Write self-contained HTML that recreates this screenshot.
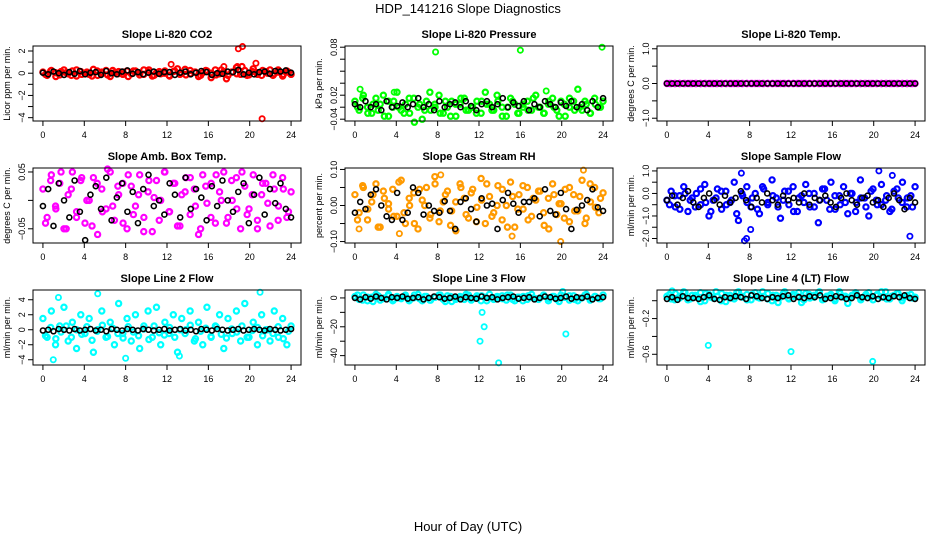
<!DOCTYPE html>
<html><head><meta charset="utf-8"><style>
body{margin:0;background:#fff;}
svg{display:block;font-family:"Liberation Sans",sans-serif;}
</style></head><body>
<svg id="chart" width="936" height="540" viewBox="0 0 936 540">
<text x="468" y="13" text-anchor="middle" font-size="13">HDP_141216  Slope Diagnostics</text>
<text x="468" y="531" text-anchor="middle" font-size="13">Hour of Day (UTC)</text>
</svg>
<script>
// ---- data ----
const xTicks = [0,4,8,12,16,20,24];
const co2 = [0.1,-0.2,0.25,0.05,-0.15,0.3,-0.05,0.2,-0.25,0.15,0,-0.1,0.35,-0.2,0.1,0.25,-0.3,0.05,0.15,-0.1,0.2,-0.05,0.2,-0.15,0.3,0.1,-0.25,0.05,-0.05,0.2,-0.2,0.15,0.4,0,-0.15,0.25,0.1,-0.3,0.05,0.2,-0.4,0.3,-0.05,0.15,-0.2,0.1,0.5,-0.1,0.25,-0.15,0.4,0.05,-0.2,0.15,0.3,-0.05,0.1,-0.25,0.2,-0.1];
const co2B = [-0.1,0.2,-0.3,0.15,0.05,-0.2,0.3,-0.1,0.1,-0.25,0.2,0.0,-0.15,0.25,-0.05,0.1,-0.3,0.2,0.05,-0.1,0.3,-0.2,0.15,0.0,-0.25,0.2,-0.1,0.35,-0.05,0.1,-0.2,0.25,0.0,-0.15,0.3,-0.5,0.1,-0.05,0.6,-0.2,0.15,-0.1,0.25,0.0,-0.2,0.3,-0.1,0.1];
const co2OutHours = [12.4,18.9,19.3,20.6,21.2,17.5,18.8];
const co2OutValues = [0.8,2.2,2.4,0.9,-4.1,0.6,0.6];
const co2Black = [0.05,-0.1,0.15,0,-0.15,0.1,-0.05,0.2,-0.1,0.05,0.1,-0.15,0.2,0,-0.1,0.15,0.25,-0.05,0.1,-0.1,0.05,0.15,-0.05,0.1,0.1,-0.15,0.05,0.15,-0.1,0.05,0.2,0.1,-0.15,0,-0.05,0.15,0.1,0.3,-0.1,0.05,-0.1,0.1,0.15,-0.05,0.2,0.15,0.25,0.05];

const pres = [-0.01,-0.025,0,-0.02,-0.03,-0.005,-0.015,-0.035,-0.01,-0.02,0.005,-0.025,-0.015,-0.03,-0.005,-0.02,-0.04,-0.01,-0.025,-0.015,0,-0.03,-0.02,-0.01,-0.035,-0.015,-0.005,-0.025,-0.02,-0.01,-0.03,0.005,-0.015,-0.025,-0.01,-0.02,-0.035,-0.005,-0.015,-0.03,-0.02,-0.01,-0.025,0,-0.02,-0.03,-0.015,-0.005,-0.025,-0.01,-0.035,-0.02,-0.01,0.01,-0.025,-0.015,-0.03,-0.005,-0.02,-0.01];
const presB = [-0.02,-0.005,-0.03,-0.015,-0.025,0.0,-0.035,-0.01,-0.02,-0.03,-0.005,-0.045,-0.015,-0.025,0.005,-0.02,-0.03,-0.01,-0.035,-0.015,-0.005,-0.025,-0.02,-0.03,-0.01,-0.015,-0.025,0.0,-0.035,-0.02,-0.01,-0.03,-0.015,-0.025,-0.005,-0.02,-0.03,-0.01,-0.02,-0.035,-0.015,-0.005,-0.025,-0.02,-0.01,-0.03,-0.015,-0.02];
const presOutHours = [7.8,16,23.9,0.5,3.8,18.5];
const presOutValues = [0.072,0.075,0.08,0.01,0.005,0.007];
const presBlack = [-0.015,-0.02,-0.01,-0.02,-0.015,-0.025,-0.01,-0.02,-0.018,-0.012,-0.02,-0.015,-0.005,-0.02,-0.015,-0.025,-0.01,-0.02,-0.015,-0.012,-0.02,-0.01,-0.018,-0.025,-0.015,-0.01,-0.02,-0.015,-0.005,-0.02,-0.012,-0.018,-0.01,-0.025,-0.015,-0.02,-0.01,-0.015,-0.02,-0.012,-0.018,-0.01,-0.02,-0.015,-0.025,-0.01,-0.02,-0.005];

const temp = [0,0,0,0,0,0,0,0,0,0,0,0,0,0,0,0,0,0,0,0,0,0,0,0,0,0,0,0,0,0,0,0,0,0,0,0,0,0,0,0,0,0,0,0,0,0,0,0,0,0,0,0,0,0,0,0,0,0,0,0];
const tempB = [0,0,0,0,0,0,0,0,0,0,0,0,0,0,0,0,0,0,0,0,0,0,0,0,0,0,0,0,0,0,0,0,0,0,0,0,0,0,0,0,0,0,0,0,0,0,0,0];
const tempBlack = [0,0,0,0,0,0,0,0,0,0,0,0,0,0,0,0,0,0,0,0,0,0,0,0,0,0,0,0,0,0,0,0,0,0,0,0,0,0,0,0,0,0,0,0,0,0,0,0];

const amb = [0.02,-0.03,0.045,-0.01,0.03,-0.05,0.01,0.05,-0.02,0.035,-0.04,0.0,0.04,-0.06,0.02,-0.015,0.05,-0.035,0.01,0.03,-0.05,0.025,-0.01,0.045,-0.03,0.015,-0.055,0.035,0,0.05,-0.02,0.03,-0.045,0.01,0.04,-0.025,0.02,-0.06,0.045,-0.005,0.03,-0.04,0.015,0.05,-0.03,0.0,0.04,-0.05,0.025,-0.015,0.045,-0.035,0.01,0.03,-0.045,0.02,-0.01,0.04,-0.03,0.015];
const ambB = [-0.04,0.035,-0.015,0.05,-0.05,0.02,-0.03,0.04,0.0,-0.045,0.03,-0.02,0.055,-0.01,0.025,-0.04,0.045,-0.025,0.01,-0.055,0.035,0.005,-0.035,0.05,-0.02,0.03,-0.045,0.015,0.04,-0.01,-0.05,0.025,-0.03,0.045,0.0,-0.04,0.035,-0.015,0.05,-0.025,0.01,-0.05,0.03,-0.005,0.045,-0.035,0.02,-0.02];
const ambBlack = [-0.01,0.02,-0.045,0.03,0.0,-0.03,0.035,-0.02,-0.07,0.01,0.025,-0.015,0.04,-0.035,0.005,0.03,-0.02,0.015,-0.04,0.02,0.045,-0.01,0.0,-0.025,0.03,0.01,-0.03,0.04,-0.015,0.02,0.005,-0.035,0.025,-0.01,0.035,0.0,-0.02,0.015,0.03,-0.04,0.01,0.04,-0.025,0.02,-0.005,0.03,-0.015,-0.03];

const rh = [0.03,-0.02,0.05,-0.04,0.01,0.06,-0.06,0.02,-0.01,0.045,-0.03,0.07,-0.05,0.0,0.035,-0.065,0.015,0.05,-0.025,0.08,-0.045,0.01,0.04,-0.015,-0.07,0.06,0.02,-0.035,0.045,-0.005,0.075,-0.05,0.025,-0.02,0.055,-0.04,0.0,0.065,-0.06,0.03,-0.01,0.05,-0.03,0.015,0.04,-0.055,0.02,0.06,-0.025,0.005,0.045,-0.045,0.03,-0.015,0.07,-0.035,0.01,0.05,-0.02,0.035];
const rhB = [-0.04,0.055,-0.01,0.03,-0.06,0.04,0.005,-0.03,0.065,-0.02,0.02,-0.05,0.045,0.0,-0.035,0.06,-0.015,0.03,-0.055,0.01,0.05,-0.025,0.035,-0.045,0.015,0.06,-0.03,0.0,0.045,-0.06,0.025,-0.01,0.055,-0.04,0.02,0.04,-0.02,-0.065,0.03,0.005,-0.035,0.05,-0.015,0.025,-0.05,0.06,-0.005,0.02];
const rhOutHours = [22.1,19.9,4.3,15.2,8.3,0.4];
const rhOutValues = [0.098,-0.1,-0.078,-0.085,0.085,-0.065];
const rhBlack = [-0.02,0.01,-0.01,0.03,0.045,0.0,-0.03,-0.04,0.035,-0.04,-0.02,0.05,0.035,-0.025,0.0,-0.015,-0.02,0.012,-0.015,-0.065,0.01,0.02,-0.01,-0.045,0.02,0.0,0.005,-0.065,0.015,0.035,0.005,-0.02,0.01,0.01,0.02,-0.03,0.045,-0.015,-0.025,0.035,-0.01,-0.065,-0.012,0.0,0.015,0.045,-0.005,-0.015];

const flow = [-0.3,0.1,-0.6,-0.1,0.3,-0.8,-0.2,0.0,-0.5,0.4,-1.0,-0.3,0.2,-0.7,0.1,-0.4,0.5,-1.2,-0.1,0.3,-0.6,0.0,-0.9,0.2,-0.4,0.6,-0.2,-1.1,0.1,-0.5,0.3,-0.8,-0.1,0.4,-0.6,0.0,-1.3,0.2,-0.3,0.5,-0.7,-0.1,0.3,-0.9,0.0,-0.4,0.6,-0.2,-1.0,0.2,-0.5,0.4,-0.3,-0.8,0.1,-0.2,0.5,-0.6,-0.1,0.3];
const flowB = [-0.5,-0.1,-0.7,0.0,-0.3,-0.6,0.2,-0.4,-0.8,-0.2,0.1,-0.5,-0.3,-0.9,0.0,-0.4,-0.2,-0.7,0.3,-0.5,-0.1,-0.6,-0.3,0.1,-0.8,-0.2,-0.4,0.0,-0.6,-0.3,0.2,-0.7,-0.1,-0.5,-0.4,0.0,-0.8,-0.2,-0.6,0.1,-0.3,-0.5,-0.1,-0.7,0.2,-0.4,-0.2,-0.6];
const flowOutHours = [7.5,7.7,20.5,23.5,7.2,8.1,21.8];
const flowOutValues = [-2.1,-2.0,1.0,-1.9,0.9,-1.6,0.8];
const flowBlack = [-0.3,-0.1,-0.5,-0.2,0.1,-0.4,-0.6,-0.2,0.0,-0.3,-0.5,-0.1,-0.4,-0.2,0.1,-0.3,-0.6,-0.2,-0.4,0.0,-0.3,-0.5,-0.1,-0.3,-0.2,-0.4,0.0,-0.5,-0.2,-0.3,-0.1,-0.4,-0.6,-0.2,0.0,-0.3,-0.5,-0.2,-0.1,-0.4,-0.3,-0.6,-0.2,0.0,-0.3,-0.7,-0.2,-0.4];

const line2 = [1.5,-1.0,2.5,-2.0,0.5,3.0,-1.5,1.0,-2.5,2.0,-0.5,1.5,-3.0,0.0,2.5,-1.0,1.0,-2.0,3.5,-0.5,1.5,-1.5,2.0,-2.5,0.5,2.5,-1.0,3.0,-2.0,1.0,-0.5,2.0,-3.0,1.5,0.0,2.5,-1.5,1.0,-2.0,3.0,-1.0,0.5,2.0,-2.5,1.5,-0.5,2.5,-1.5,3.5,-1.0,1.0,-2.0,2.0,0.0,-1.5,2.5,-1.0,1.5,-2.0,0.5];
const line2B = [-0.8,0.3,-1.2,-0.3,0.5,-1.0,0.0,-0.6,0.4,-1.4,-0.2,0.6,-0.9,0.2,-0.5,-1.1,0.4,-0.3,-0.8,0.1,-1.3,0.5,-0.4,-0.7,0.3,-1.0,0.0,-0.5,0.6,-1.2,-0.2,0.2,-0.9,0.4,-0.6,-1.1,0.1,-0.3,0.5,-1.0,-0.1,0.3,-0.8,0.0,-0.5,0.4,-1.2,-0.2];
const line2OutHours = [1.5,5.3,21.0,1.0,8.0,13.2];
const line2OutValues = [4.3,4.8,5.0,-4.0,-3.8,-3.5];
const line2Black = [-0.1,0.0,-0.2,0.1,0.0,-0.1,0.1,-0.1,0.0,0.1,-0.1,0.0,-0.2,0.1,0.0,-0.1,0.1,0.0,-0.1,0.1,0.0,-0.1,0.0,0.1,-0.1,0.0,0.1,-0.1,0.0,-0.2,0.1,0.0,-0.1,0.1,0.0,-0.1,0.0,0.1,-0.1,0.0,0.1,0.0,-0.1,0.1,0.0,-0.1,0.0,0.1];

const line3 = [1,-1,2,-2,0.5,2.5,-1.5,0,1.5,-2,1,-0.5,2,-1,0,2.5,-2,1,-1.5,0.5,2,-1,1.5,-2.5,0,1,-1,2,-0.5,1.5,-2,0.5,2.5,-1,0,1.5,-1.5,2,-2,0.5,1,-1,2.5,-0.5,0,1.5,-2,1,-1,2,0.5,-1.5,1.5,-2,0,2.5,-1,1,-0.5,2];
const line3B = [2,-1.5,0.5,-2.5,1.5,-0.5,2.5,-1,0,1,-2,2,-0.5,1,-1.5,0.5,2,-2.5,1,-1,0,2.5,-1.5,0.5,1.5,-2,0,1,-0.5,2,-1,0.5,-2,1.5,0,-1,2,-0.5,1,-2.5,0.5,1.5,-1,0,2,-1.5,1,-0.5];
const line3OutHours = [12.1,12.3,12.5,13.9,20.4,20.1];
const line3OutValues = [-30,-10,-20,-45,-25,4.5];
const line3Black = [0,-1,0.5,-0.5,1,0,-1,0.5,0,1,-0.5,0,0.5,-1,0,1,0.5,-0.5,0,1,-1,0.5,0,-0.5,1,0,0.5,-1,0,0.5,1,-0.5,0,0.5,-1,0,1,0.5,-0.5,0,1,-0.5,0.5,0,1,-1,0,0.5];

const line4 = [0.05,0.02,0.08,0.03,0.1,0.01,0.06,0.04,0.09,0.0,0.07,0.03,0.05,0.08,-0.01,0.06,0.02,0.1,0.04,0.07,0.01,0.09,0.03,0.05,0.08,0.0,0.06,0.04,0.1,0.02,0.07,0.05,-0.02,0.08,0.03,0.06,0.09,0.01,0.05,0.07,0.02,0.1,0.04,-0.03,0.06,0.08,0.03,0.05,0.09,0.01,0.07,0.04,0.1,0.02,0.06,0.08,0.03,0.05,0.07,0.04];
const line4B = [0.07,0.01,0.05,0.09,0.02,0.06,-0.01,0.08,0.04,0.1,0.0,0.06,0.03,0.09,0.05,0.01,0.07,0.04,0.1,0.02,0.06,-0.02,0.08,0.03,0.05,0.09,0.01,0.07,0.04,0.1,0.02,0.06,0.0,0.08,0.05,0.03,0.09,0.01,0.07,0.04,0.06,0.1,0.02,0.05,0.08,0.0,0.06,0.03];
const line4OutHours = [4.0,12.0,19.9,0.5];
const line4OutValues = [-0.5,-0.57,-0.68,0.11];
const line4Black = [0.02,0.04,0.01,0.05,0.03,0.03,0.02,0.04,0.06,0.02,0.01,0.04,0.03,0.05,0.04,0.02,0.06,0.05,0.03,0.02,0.04,0.03,0.05,0.06,0.02,0.04,0.03,0.05,0.04,0.06,0.02,0.03,0.05,0.04,0.02,0.03,0.06,0.04,0.03,0.05,0.02,0.04,0.03,0.05,0.04,0.06,0.03,0.02];

const titles = ["Slope Li-820 CO2","Slope Li-820 Pressure","Slope Li-820 Temp.","Slope Amb. Box Temp.","Slope Gas Stream RH","Slope Sample Flow","Slope Line 2 Flow","Slope Line 3 Flow","Slope Line 4 (LT) Flow"];
const yTitles = ["Licor ppm per min.","kPa per min.","degrees C per min.","degrees C per min.","percent per min.","ml/min per min.","ml/min per min.","ml/min per min.","ml/min per min."];
const yTickVals = [[-4,-3,-2,-1,0,1,2],[-0.04,-0.02,0,0.02,0.04,0.06,0.08],[-1,-0.5,0,0.5,1],[-0.05,0,0.05],[-0.1,-0.05,0,0.05,0.1],[-2,-1.5,-1,-0.5,0,0.5,1],[-4,-2,0,2,4],[-40,-30,-20,-10,0],[-0.6,-0.4,-0.2,0]];
const yTickLabels = [["−4","","−2","","0","","2"],["−0.04","","0.02","","","","0.08"],["−1.0","","0.0","","1.0"],["−0.05","","0.05"],["−0.10","","0.00","","0.10"],["−2.0","","−1.0","","0.0","","1.0"],["−4","−2","0","2","4"],["−40","","−20","","0"],["−0.6","","−0.2",""]];
const yMins = [-4.3,-0.043,-1.08,-0.075,-0.104,-2.2,-4.7,-46.5,-0.72];
const yMaxs = [2.45,0.082,1.08,0.057,0.104,1.13,5.3,5.5,0.12];
const colors = ["#ff0000","#00ff00","#ff00ff","#ff00ff","#ff9a00","#0000ff","#00ffff","#00ffff","#00ffff"];
const bands = [co2,pres,temp,amb,rh,flow,line2,line3,line4];
const bandsB = [co2B,presB,tempB,ambB,rhB,flowB,line2B,line3B,line4B];
const outHours = [co2OutHours,presOutHours,[],[],rhOutHours,flowOutHours,line2OutHours,line3OutHours,line4OutHours];
const outValues = [co2OutValues,presOutValues,[],[],rhOutValues,flowOutValues,line2OutValues,line3OutValues,line4OutValues];
const blacks = [co2Black,presBlack,tempBlack,ambBlack,rhBlack,flowBlack,line2Black,line3Black,line4Black];

const NS = "http://www.w3.org/2000/svg";
const svg = document.getElementById("chart");
function mk(tag, attrs, parent){const e=document.createElementNS(NS,tag);for(const k in attrs)e.setAttribute(k,attrs[k]);(parent||svg).appendChild(e);return e;}

for (let p=0;p<9;p++){
  const col=p%3,row=Math.floor(p/3);
  const L=33+col*312,R=L+268,T=46+row*122,B=T+75;
  const g=mk("g",{});
  
  
  const xs=h=>L+(h+0.96)/25.92*(R-L);
  const ys=v=>B-(v-yMins[p])/(yMaxs[p]-yMins[p])*(B-T);
  const t=mk("text",{x:(L+R)/2,y:T-8,"text-anchor":"middle","font-size":"11","font-weight":"bold"},g);
  t.textContent=titles[p];
  
  
  const yt=mk("text",{x:0,y:0,"text-anchor":"middle","font-size":"9",transform:`translate(${L-23},${(T+B)/2}) rotate(-90)`},g);
  yt.textContent=yTitles[p];
  
  
  const step=24/(bands[p].length-1);
  bands[p].forEach((v,i)=>{
    const c=mk("circle",{cx:xs(i*step),cy:ys(v),r:2.6,fill:"none",stroke:colors[p],"stroke-width":2.2},g);
    
    
  });
  bandsB[p].forEach((v,i)=>{
    const c=mk("circle",{cx:xs(i*0.5+0.25),cy:ys(v),r:2.6,fill:"none",stroke:colors[p],"stroke-width":2.2},g);
    
    
  });
  outHours[p].forEach((h,i)=>{
    const c=mk("circle",{cx:xs(h),cy:ys(outValues[p][i]),r:2.6,fill:"none",stroke:colors[p],"stroke-width":1.8},g);
    
    
  });
  const bstep=24/(blacks[p].length-1);
  blacks[p].forEach((v,i)=>{
    const c=mk("circle",{cx:xs(i*bstep),cy:ys(v),r:2.5,fill:"none",stroke:"#000","stroke-width":1.6},g);
    
    
  });
  const box=mk("rect",{x:L,y:T,width:R-L,height:B-T,fill:"none",stroke:"#000","stroke-width":1},g);
  
  
  xTicks.forEach(h=>{
    mk("line",{x1:xs(h),x2:xs(h),y1:B,y2:B+5,stroke:"#000"},g);
    const lb=mk("text",{x:xs(h),y:B+17,"text-anchor":"middle","font-size":"9"},g);
    lb.textContent=h;
    
    
  });
  mk("line",{x1:xs(0),x2:xs(24),y1:B,y2:B,stroke:"#000"},g);
  const tv=yTickVals[p];
  mk("line",{x1:L,x2:L,y1:ys(tv[0]),y2:ys(tv[tv.length-1]),stroke:"#000"},g);
  tv.forEach((v,i)=>{
    mk("line",{x1:L-5,x2:L,y1:ys(v),y2:ys(v),stroke:"#000"},g);
    if(yTickLabels[p][i]){
      const lb=mk("text",{x:0,y:0,"text-anchor":"middle","font-size":"9",transform:`translate(${L-8},${ys(v)}) rotate(-90)`},g);
      lb.textContent=yTickLabels[p][i];
      
      
    }
  });
}
</script>
</body></html>
